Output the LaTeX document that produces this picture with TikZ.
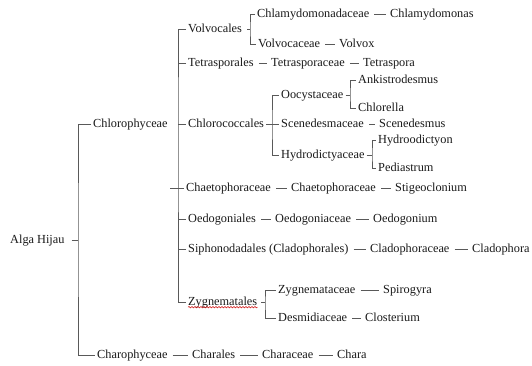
\documentclass[tikz,border=0pt]{standalone}
\usepackage{fontspec}
\setmainfont{Liberation Serif}
\usetikzlibrary{decorations.pathmorphing}

\begin{document}
\begin{tikzpicture}[x=1pt, y=-1pt,
    taxon/.style={anchor=west, inner xsep=2pt, inner ysep=0pt, text height=8pt, text depth=2pt,
        text=black!90, font=\fontsize{12.3}{14}\selectfont},
    link/.style={draw=black!65, line width=0.7pt},
    gap/.style={link, shorten <=3pt, shorten >=2pt}]
            \useasboundingbox (0,0) rectangle (532,365);

            % Kingdom and classes
            \node[taxon] (alga) at (8,240) {Alga Hijau};
            \node[taxon] (chloro) at (91,124) {Chlorophyceae};
            \node[taxon] (charo) at (95,355) {Charophyceae};

            % Orders of Chlorophyceae
            \node[taxon] (volvocales) at (186,29) {Volvocales};
            \node[taxon] (tetrasporales) at (186,63) {Tetrasporales};
            \node[taxon] (chlorococcales) at (186,124) {Chlorococcales};
            \node[taxon] (chaetoA) at (184,188) {Chaetophoraceae};
            \node[taxon] (oedogoniales) at (186,219) {Oedogoniales};
            \node[taxon] (siphono) at (186,249) {Siphonodadales (Cladophorales)};
            \node[taxon] (zygnematales) at (186,302) {Zygnematales};

            % Families and genera
            \node[taxon] (chlamydoF) at (255,14) {Chlamydomonadaceae};
            \node[taxon] (chlamydomonas) at (388,14) {Chlamydomonas};
            \node[taxon] (volvocaceae) at (256,44) {Volvocaceae};
            \node[taxon] (volvox) at (337,44) {Volvox};
            \node[taxon] (tetraspF) at (269,63) {Tetrasporaceae};
            \node[taxon] (tetraspora) at (361,63) {Tetraspora};
            \node[taxon] (oocyst) at (279,95) {Oocystaceae};
            \node[taxon] (ankis) at (356,80) {Ankistrodesmus};
            \node[taxon] (chlorella) at (356,108) {Chlorella};
            \node[taxon] (scened) at (279,124) {Scenedesmaceae};
            \node[taxon] (scenedesmus) at (377,124) {Scenedesmus};
            \node[taxon] (hydrodict) at (279,155) {Hydrodictyaceae};
            \node[taxon] (hydroodictyon) at (376,140) {Hydroodictyon};
            \node[taxon] (pediastrum) at (376,168) {Pediastrum};
            \node[taxon] (chaetoB) at (289,188) {Chaetophoraceae};
            \node[taxon] (stigeo) at (393,188) {Stigeoclonium};
            \node[taxon] (oedogF) at (273,219) {Oedogoniaceae};
            \node[taxon] (oedogonium) at (371,219) {Oedogonium};
            \node[taxon] (cladoF) at (368,249) {Cladophoraceae};
            \node[taxon] (cladophora) at (470,249) {Cladophora};
            \node[taxon] (zygF) at (276,290) {Zygnemataceae};
            \node[taxon] (spirogyra) at (381,290) {Spirogyra};
            \node[taxon] (desmid) at (276,318) {Desmidiaceae};
            \node[taxon] (closterium) at (363,318) {Closterium};

            % Charophyceae line
            \node[taxon] (charales) at (190,355) {Charales};
            \node[taxon] (characeae) at (260,355) {Characeae};
            \node[taxon] (chara) at (335,355) {Chara};

            % Bracket spines
            \coordinate (mainspine) at (78,240);
            \coordinate (clspine) at (178,124);
            \coordinate (volspine) at (250,29);
            \coordinate (ccspine) at (272,124);
            \coordinate (oospine) at (350,95);
            \coordinate (hyspine) at (372,155);
            \coordinate (zyspine) at (265,302);

            % Main bracket
            \draw[link, shorten <=5pt] (alga.east) -- (mainspine);
            \draw[link] (chloro.west) -| (mainspine) |- (charo.west);

            % Chlorophyceae bracket
            \draw[link] (volvocales.west) -| (clspine) |- (zygnematales.west);
            \foreach \n in {tetrasporales,chlorococcales,oedogoniales,siphono}
                \draw[link] (\n.west) -- (\n.west -| clspine);
            \draw[link] (chaetoA.west) -- ([xshift=-8pt]chaetoA.west -| clspine);

            % Sub brackets
            \draw[link, shorten <=3pt] (volvocales.east) -- (volspine);
            \draw[link] (chlamydoF.west) -| (volspine) |- (volvocaceae.west);
            \draw[link] (oocyst.west) -| (ccspine) |- (hydrodict.west);
            \draw[link] (oocyst.east) -- (oospine);
            \draw[link] (ankis.west) -| (oospine) |- (chlorella.west);
            \draw[link] (hydrodict.east) -- (hyspine);
            \draw[link] (hydroodictyon.west) -| (hyspine) |- (pediastrum.west);
            \draw[link, shorten <=2pt] (zygnematales.east) -- (zyspine);
            \draw[link] (zygF.west) -| (zyspine) |- (desmid.west);
            \draw[link] (chlorococcales.east) -- (scened.west);

            % Dashes between names
            \draw[gap] (chlamydoF.east) -- (chlamydomonas.west);
            \draw[gap] (volvocaceae.east) -- (volvox.west);
            \draw[gap] (tetrasporales.east) -- (tetraspF.west);
            \draw[gap] (tetraspF.east) -- (tetraspora.west);
            \draw[gap] (scened.east) -- (scenedesmus.west);
            \draw[gap] (chaetoA.east) -- (chaetoB.west);
            \draw[gap] (chaetoB.east) -- (stigeo.west);
            \draw[gap] (oedogoniales.east) -- (oedogF.west);
            \draw[gap] (oedogF.east) -- (oedogonium.west);
            \draw[gap] (siphono.east) -- (cladoF.west);
            \draw[gap] (cladoF.east) -- (cladophora.west);
            \draw[gap] (zygF.east) -- (spirogyra.west);
            \draw[gap] (desmid.east) -- (closterium.west);
            \draw[gap] (charo.east) -- (charales.west);
            \draw[gap] (charales.east) -- (characeae.west);
            \draw[gap] (characeae.east) -- (chara.west);

            % Spelling underline
            \draw[red!80!black, line width=0.5pt, decorate, decoration={snake, amplitude=0.7pt, segment length=3pt}]
                ([xshift=2pt]zygnematales.south west) -- ([xshift=-2pt]zygnematales.south east);
        \end{tikzpicture}
\end{document}
